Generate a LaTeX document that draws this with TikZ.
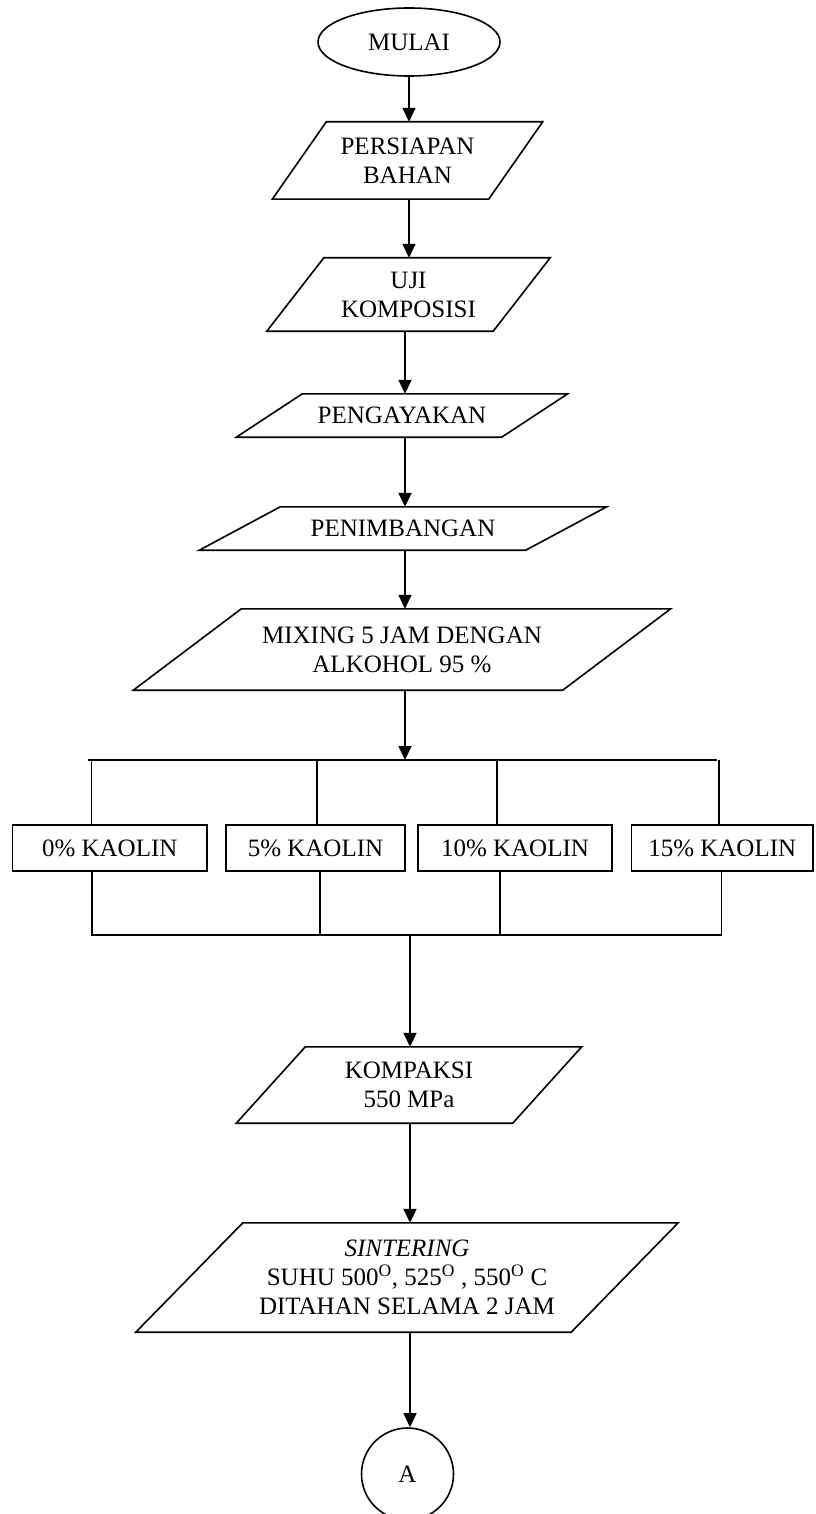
\documentclass[tikz,border=0pt]{standalone}
\usepackage{fontspec}
\setmainfont{Liberation Serif}
\usetikzlibrary{shapes.geometric,arrows.meta,calc}
\tikzset{
  txt/.style={font=\fontsize{25}{29}\selectfont, align=center, inner sep=0pt},
  arr/.style={line width=1.6pt, -{Triangle[length=14pt,width=13pt]}},
  ln/.style={line width=1.6pt},
  kbox/.style={txt, draw, line width=1.6pt, minimum height=46pt},
}
% \paranode{name}{cx}{cy}{edge width}{height}{offset}{text}
\newcommand{\paranode}[7]{%
  \node[txt, minimum width=#4pt, minimum height=#5pt] (#1) at (#2,#3) {#7};
  \draw[ln] ([xshift=#6pt/2]#1.north west) -- ([xshift=#6pt/2]#1.north east)
    -- ([xshift=-#6pt/2]#1.south east) -- ([xshift=-#6pt/2]#1.south west) -- cycle;
}
\begin{document}
\begin{tikzpicture}[x=1pt,y=-1pt]
\useasboundingbox (0,0) rectangle (815,1514);
\clip (0,0) rectangle (815,1514);

\node[txt, draw, line width=1.6pt, ellipse, minimum width=182pt, minimum height=68pt] (mulai) at (409,42) {MULAI};

\paranode{pers}{407.5}{160.5}{216}{77}{54}{PERSIAPAN\\BAHAN}
\paranode{uji}{408.5}{294.5}{226}{73}{57}{UJI\\KOMPOSISI}
\paranode{peng}{402}{415.5}{265}{43}{66}{PENGAYAKAN}
\paranode{penim}{403}{528.5}{326}{43}{81}{PENIMBANGAN}
\paranode{mix}{402}{649.5}{429}{81}{108}{MIXING 5 JAM DENGAN\\ALKOHOL 95 \%}
\paranode{komp}{409}{1085}{276}{76}{69}{KOMPAKSI\\550 MPa}
\paranode{sint}{407}{1277.5}{435}{109}{107}{\textit{SINTERING}\\SUHU 500\textsuperscript{O}, 525\textsuperscript{O} , 550\textsuperscript{O} C\\DITAHAN SELAMA 2 JAM}

\node[txt, draw, line width=1.6pt, circle, minimum size=92pt] (a) at (407.5,1474) {A};

\node[kbox, minimum width=194.5pt] (k1) at (109.75,848) {0\% KAOLIN};
\node[kbox, minimum width=179pt] (k2) at (315.5,848) {5\% KAOLIN};
\node[kbox, minimum width=194pt] (k3) at (515,848) {10\% KAOLIN};
\node[kbox, minimum width=181.5pt] (k4) at (722.25,848) {15\% KAOLIN};

% main arrows
\draw[arr] (mulai.south) -- (mulai.south |- pers.north);
\draw[arr] (pers.south -| mulai.south) -- (mulai.south |- uji.north);
\coordinate (c1) at (405,0);
\draw[arr] (c1 |- uji.south) -- (c1 |- peng.north);
\draw[arr] (c1 |- peng.south) -- (c1 |- penim.north);
\draw[arr] (c1 |- penim.south) -- (c1 |- mix.north);

% top branch
\coordinate (tl) at (88,760);
\coordinate (tr) at (717,760);
\coordinate (tj) at (405,760);
\draw[arr] (c1 |- mix.south) -- (tj);
\draw[ln] (tl) -- (tr);
\coordinate (d1) at (91.5,760);
\coordinate (d2) at (317,760);
\coordinate (d3) at (497,760);
\coordinate (d4) at (719,760);
\draw[ln] (d1) -- (d1 |- k1.north);
\draw[ln] (d2) -- (d2 |- k2.north);
\draw[ln] (d3) -- (d3 |- k3.north);
\draw[ln] (d4) -- (d4 |- k4.north);

% bottom merge
\coordinate (bl) at (91,935);
\coordinate (br) at (722,935);
\coordinate (bj) at (410,935);
\coordinate (e1) at (92,935);
\coordinate (e2) at (320,935);
\coordinate (e3) at (500,935);
\coordinate (e4) at (721.5,935);
\draw[ln] (e1 |- k1.south) -- (e1);
\draw[ln] (e2 |- k2.south) -- (e2);
\draw[ln] (e3 |- k3.south) -- (e3);
\draw[ln] (e4 |- k4.south) -- (e4);
\draw[ln] (bl) -- (br);
\draw[arr] (bj) -- (bj |- komp.north);

\draw[arr] (bj |- komp.south) -- (bj |- sint.north);
\draw[arr] (bj |- sint.south) -- (bj |- a.north);
\end{tikzpicture}
\end{document}
